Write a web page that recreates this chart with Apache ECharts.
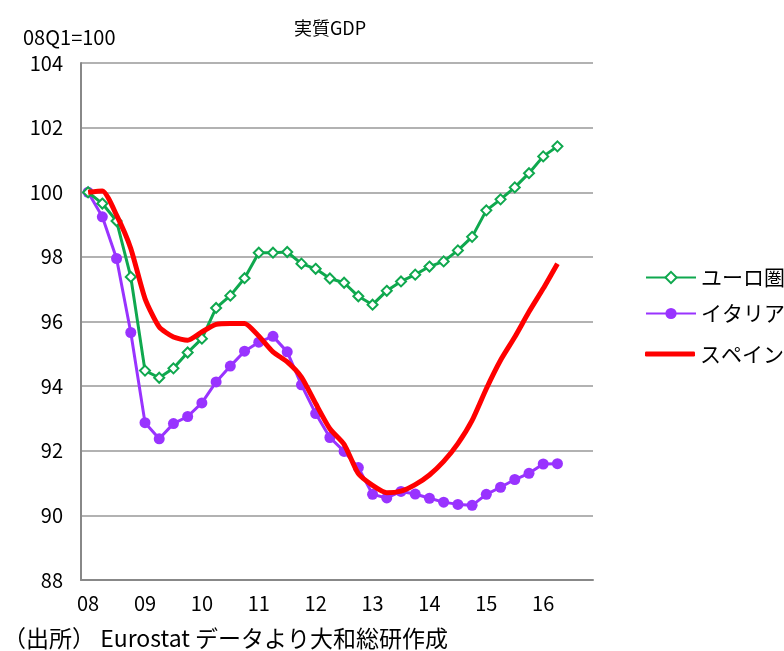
<!DOCTYPE html>
<html><head><meta charset="utf-8">
<script src="https://cdn.jsdelivr.net/npm/echarts@6/dist/echarts.min.js"></script>
<style>html,body{margin:0;padding:0;background:#fff}#c{width:784px;height:651px}</style>
</head><body><div id="c"></div>
<script>
var years = ['08','09','10','11','12','13','14','15','16'];
var quarters = ['Q1','Q2','Q3','Q4'];
var yTicks = [88,90,92,94,96,98,100,102,104];
var euroArea = [100,99.65,99.11,97.38,94.48,94.26,94.55,95.04,95.47,96.42,96.80,97.34,98.13,98.13,98.15,97.79,97.63,97.33,97.20,96.78,96.52,96.95,97.24,97.45,97.70,97.86,98.20,98.62,99.44,99.78,100.15,100.59,101.11,101.42];
var italy = [100,99.24,97.95,95.66,92.87,92.37,92.84,93.06,93.48,94.13,94.62,95.08,95.36,95.54,95.06,94.04,93.15,92.41,91.98,91.48,90.65,90.54,90.74,90.66,90.53,90.41,90.34,90.31,90.65,90.87,91.11,91.30,91.59,91.60];
var spain = [100,100.04,99.29,98.26,96.71,95.83,95.52,95.42,95.68,95.91,95.94,95.94,95.55,95.06,94.75,94.28,93.46,92.68,92.20,91.29,90.93,90.70,90.75,90.95,91.25,91.67,92.22,92.94,93.92,94.80,95.52,96.30,97.02,97.79];
var seriesNames = ['ユーロ圏','イタリア','スペイン'];
var sourceText = '（出所） Eurostat データより大和総研作成';

var categories = [];
years.forEach(function(y){ quarters.forEach(function(q){ categories.push(y+q); }); });

var numFont = "'Noto Sans CJK JP',sans-serif";
var jpFont = "'Noto Sans CJK JP',sans-serif";
var legendText = {fontFamily:jpFont,fontSize:21,color:'#000',lineHeight:14};
function mkLegend(name, top, extra){
  var l = {orient:'vertical',left:645,top:top,padding:0,itemWidth:50,itemHeight:14,itemGap:0,
    textStyle:legendText,data:[name]};
  for (var k in extra) l[k]=extra[k];
  return l;
}
var chart = echarts.init(document.getElementById('c'));
chart.setOption({
  animation:false,
  backgroundColor:'#fff',
  title:{text:'実質GDP',left:325,top:14,textAlign:'center',
    textStyle:{fontFamily:jpFont,fontSize:18,fontWeight:'normal',color:'#000'}},
  graphic:[
    {type:'text',left:23,top:27,style:{text:'08Q1=100',font:"20px "+numFont,fill:'#000'}},
    {type:'text',left:3,top:627,style:{text:sourceText,font:"23px "+jpFont,fill:'#000'}}
  ],
  legend:[
    mkLegend(seriesNames[0],267,{}),
    mkLegend(seriesNames[1],303,{}),
    mkLegend(seriesNames[2],343.5,{itemHeight:5,icon:'roundRect',itemStyle:{color:'#ff0000'}})
  ],
  grid:{left:81,right:191,top:63,bottom:71,containLabel:false},
  xAxis:{type:'category',data:categories,boundaryGap:true,
    axisLine:{lineStyle:{color:'#888',width:2}},
    axisTick:{inside:true,length:5,interval:3,lineStyle:{color:'#888',width:1.5}},
    axisLabel:{interval:3,margin:13,fontFamily:numFont,fontSize:20,color:'#000',
      formatter:function(v){return v.slice(0,2);}},
    splitLine:{show:false}},
  yAxis:{type:'value',min:yTicks[0],max:yTicks[yTicks.length-1],interval:2,
    axisLine:{show:true,lineStyle:{color:'#888',width:2}},
    axisTick:{show:false},
    axisLabel:{margin:18,fontFamily:numFont,fontSize:20,color:'#000'},
    splitLine:{lineStyle:{color:'#999',width:1.5}}},
  series:[
    {name:seriesNames[0],type:'line',data:euroArea,symbol:'diamond',symbolSize:10,showAllSymbol:true,
      lineStyle:{color:'#0fa84e',width:3},itemStyle:{color:'#fff',borderColor:'#0fa84e',borderWidth:2},
      z:3},
    {name:seriesNames[1],type:'line',data:italy,symbol:'circle',symbolSize:11,showAllSymbol:true,
      lineStyle:{color:'#9933ff',width:3},itemStyle:{color:'#9933ff'},z:2},
    {name:seriesNames[2],type:'line',data:spain,symbol:'none',smooth:0.2,
      lineStyle:{color:'#ff0000',width:5},itemStyle:{color:'#ff0000'},z:4}
  ]
});
</script></body></html>
